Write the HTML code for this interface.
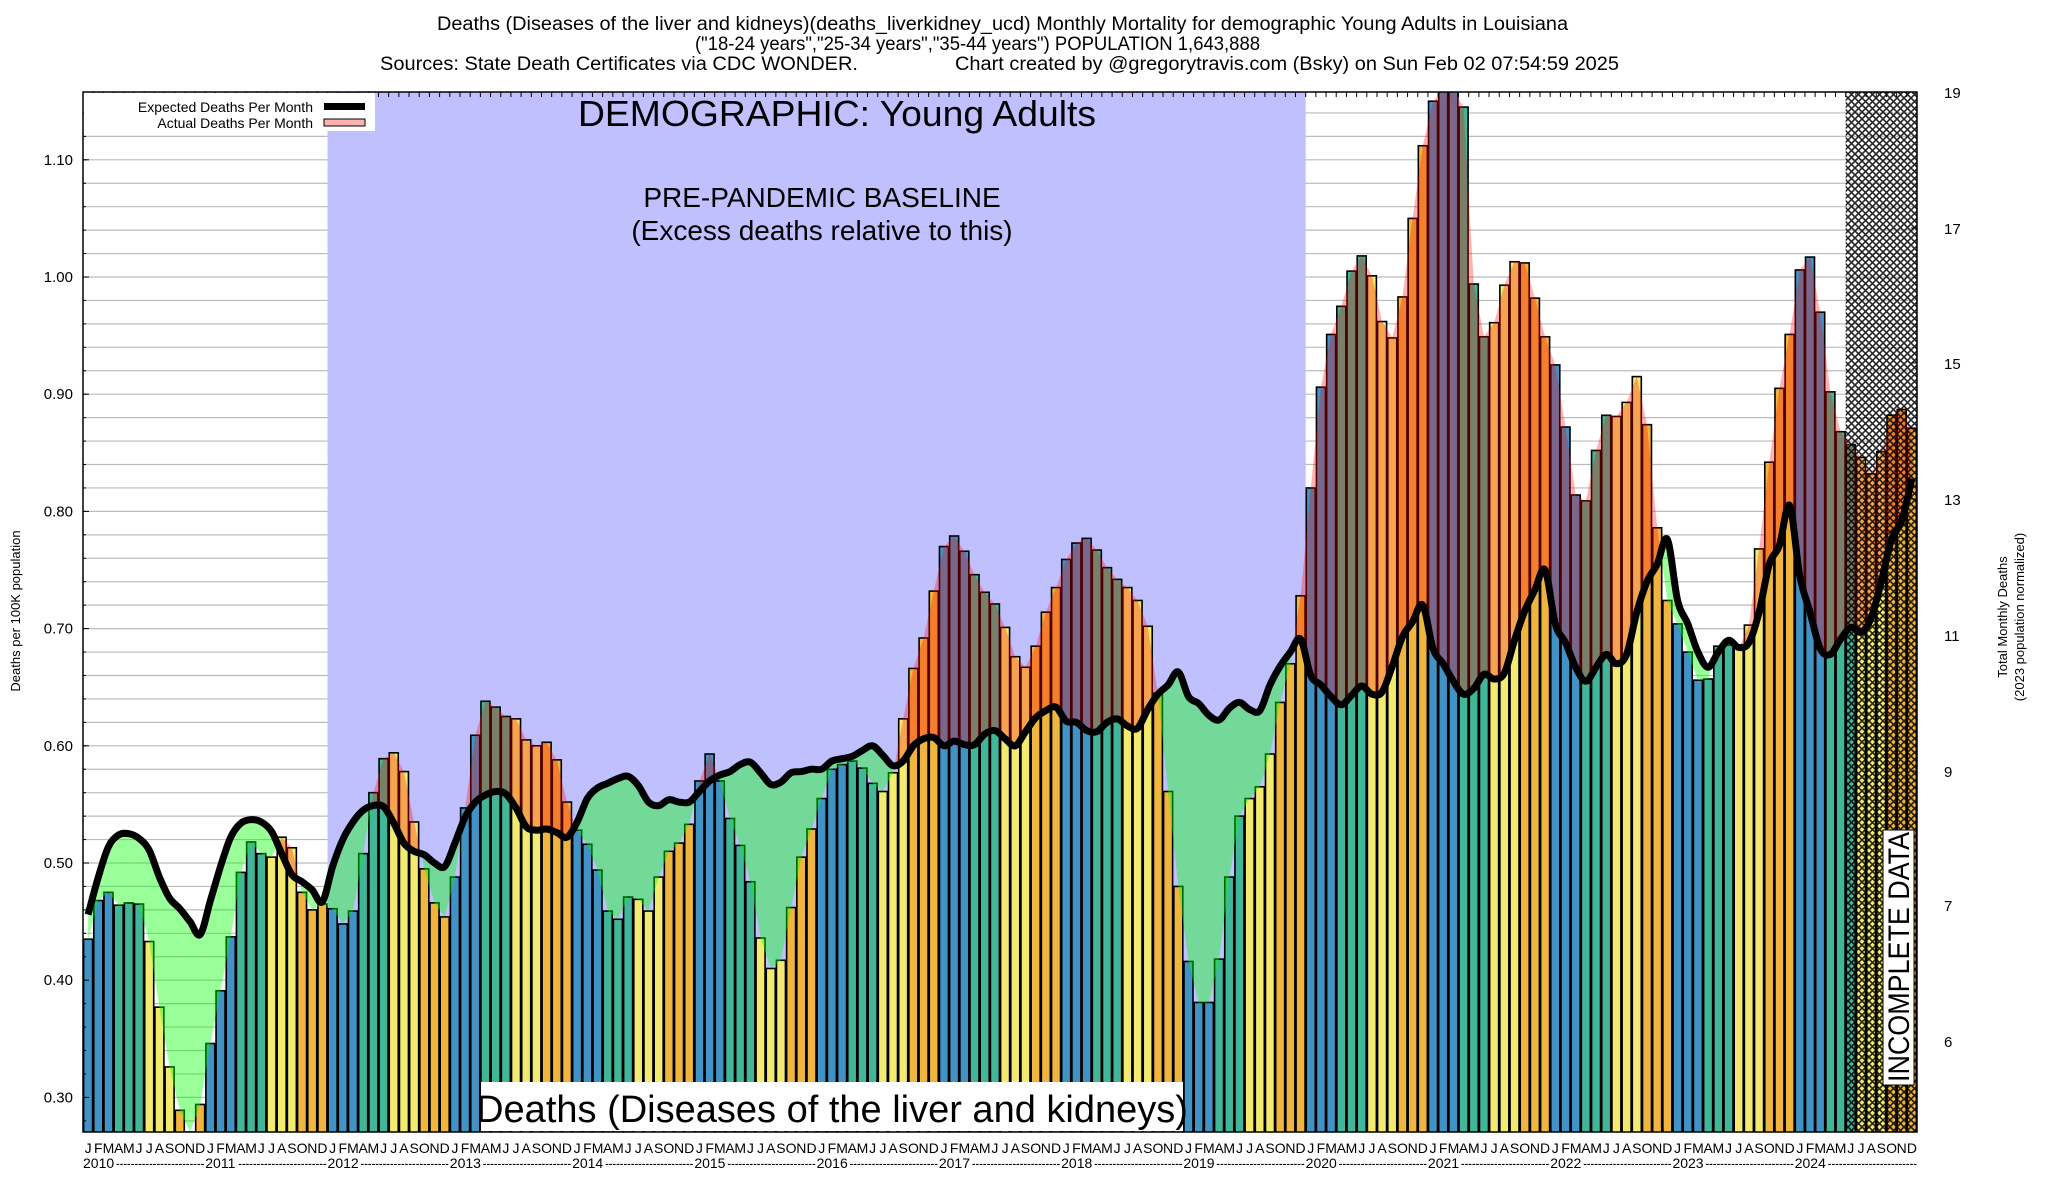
<!DOCTYPE html>
<html><head><meta charset="utf-8">
<style>
html,body{margin:0;padding:0;background:#fff;}
svg{display:block;font-family:"Liberation Sans",sans-serif;}
</style></head>
<body>
<svg id="chart" width="2048" height="1200" viewBox="0 0 2048 1200" xmlns="http://www.w3.org/2000/svg">
<defs>
<pattern id="hatch" width="7" height="7" patternUnits="userSpaceOnUse">
<path d="M0,0 L7,7 M7,0 L0,7" stroke="#000" stroke-width="1.6" fill="none"/>
</pattern>
<clipPath id="plotclip"><rect x="83" y="92" width="1834" height="1040"/></clipPath>
</defs>
<g font-size="19" fill="#000">
<text x="437" y="30" textLength="1131" lengthAdjust="spacingAndGlyphs">Deaths (Diseases of the liver and kidneys)(deaths_liverkidney_ucd) Monthly Mortality for demographic Young Adults in Louisiana</text>
<text x="695" y="50" textLength="565" lengthAdjust="spacingAndGlyphs">("18-24 years","25-34 years","35-44 years") POPULATION 1,643,888</text>
<text x="380" y="70" textLength="478" lengthAdjust="spacingAndGlyphs">Sources: State Death Certificates via CDC WONDER.</text>
<text x="955" y="70" textLength="664" lengthAdjust="spacingAndGlyphs">Chart created by @gregorytravis.com (Bsky) on Sun Feb 02 07:54:59 2025</text>
</g>
<rect x="83" y="92" width="1834" height="1040" fill="#fff"/>
<g id="grid"></g>
<rect id="baseline-bg" fill="#c0c0ff"/>
<g id="bars" clip-path="url(#plotclip)"></g>
<g id="fills" clip-path="url(#plotclip)"></g>
<path id="expline" fill="none" stroke="#000" stroke-width="7" stroke-linejoin="round" clip-path="url(#plotclip)"/>
<rect id="hatchrect" fill="url(#hatch)" opacity="0.85"/>
<g id="axes"></g>
<g>
<rect x="84" y="93" width="291" height="38" fill="#fff"/>
<text x="313" y="112" font-size="14" text-anchor="end">Expected Deaths Per Month</text>
<rect x="324" y="103" width="41" height="7" fill="#000"/>
<text x="313" y="128" font-size="14" text-anchor="end">Actual Deaths Per Month</text>
<rect x="324" y="119" width="41" height="7" fill="#ffb0b0" stroke="#000" stroke-width="1"/>
</g>
<text x="837" y="126" font-size="36" text-anchor="middle" textLength="518" lengthAdjust="spacingAndGlyphs">DEMOGRAPHIC: Young Adults</text>
<text x="822" y="207" font-size="28" text-anchor="middle">PRE-PANDEMIC BASELINE</text>
<text x="822" y="240" font-size="28" text-anchor="middle">(Excess deaths relative to this)</text>
<rect x="481" y="1082" width="702" height="49" fill="#fff"/>
<text x="832" y="1122" font-size="38" text-anchor="middle">Deaths (Diseases of the liver and kidneys)</text>
<rect x="1883" y="830" width="31" height="255" fill="#fff" stroke="#000" stroke-width="1"/>
<text transform="translate(1909,1082) rotate(-90)" font-size="30" textLength="250" lengthAdjust="spacingAndGlyphs">INCOMPLETE DATA</text>
<text transform="translate(20,611) rotate(-90)" font-size="13" text-anchor="middle">Deaths per 100K population</text>
<text transform="translate(2007,617) rotate(-90)" font-size="13" text-anchor="middle">Total Monthly Deaths</text>
<text transform="translate(2024,617) rotate(-90)" font-size="13" text-anchor="middle">(2023 population normalized)</text>
<g id="xlabels" font-size="14"></g>
</svg>
<script>
const years = [2010,2011,2012,2013,2014,2015,2016,2017,2018,2019,2020,2021,2022,2023,2024];
const monthLetters = ["J","F","M","A","M","J","J","A","S","O","N","D"];
const actual = [
.435,.468,.475,.464,.466,.465,.433,.377,.326,.289,.27,.294,
.346,.391,.437,.492,.518,.508,.505,.522,.513,.475,.46,.465,
.461,.448,.459,.508,.56,.589,.594,.578,.535,.495,.466,.454,
.488,.547,.609,.638,.633,.625,.623,.605,.6,.603,.588,.552,
.528,.516,.494,.459,.452,.471,.469,.459,.488,.51,.517,.533,
.57,.593,.57,.538,.515,.484,.436,.41,.417,.462,.505,.529,
.555,.58,.584,.587,.581,.568,.561,.577,.623,.666,.692,.732,
.77,.779,.766,.746,.731,.721,.701,.676,.667,.685,.714,.735,
.759,.773,.777,.767,.752,.742,.735,.724,.702,.645,.561,.48,
.416,.381,.381,.418,.488,.54,.555,.565,.593,.637,.67,.728,
.82,.906,.951,.975,1.005,1.018,1.001,.962,.948,.983,1.05,1.112,
1.15,1.16,1.16,1.145,.994,.949,.961,.993,1.013,1.012,.982,.949,
.925,.872,.814,.809,.852,.882,.881,.893,.915,.874,.786,.724,
.704,.68,.656,.657,.685,.686,.683,.703,.768,.842,.905,.951,
1.006,1.017,.97,.902,.868,.857,.846,.832,.851,.882,.887,.871];
const expected = [
.456,.488,.514,.524,.525,.521,.511,.488,.47,.461,.45,.439,
.468,.497,.522,.534,.537,.535,.527,.508,.49,.484,.477,.467,
.497,.52,.535,.545,.549,.548,.534,.517,.51,.507,.5,.497,
.517,.539,.552,.558,.561,.559,.547,.531,.528,.529,.526,.522,
.535,.555,.564,.568,.572,.574,.566,.552,.549,.554,.552,.552,
.561,.57,.575,.578,.584,.586,.577,.567,.569,.577,.578,.58,
.58,.587,.589,.591,.596,.6,.592,.583,.587,.6,.606,.607,
.6,.604,.601,.601,.61,.613,.606,.6,.612,.624,.63,.633,
.621,.62,.613,.612,.62,.623,.617,.615,.631,.644,.652,.663,
.642,.636,.626,.622,.632,.637,.631,.63,.652,.668,.68,.691,
.66,.652,.642,.635,.643,.651,.644,.646,.668,.693,.706,.72,
.683,.67,.655,.644,.649,.661,.657,.662,.69,.715,.733,.75,
.704,.688,.667,.655,.667,.678,.67,.678,.714,.74,.755,.776,
.724,.704,.68,.667,.68,.69,.684,.688,.714,.755,.771,.805,
.745,.714,.683,.678,.691,.701,.697,.709,.74,.776,.792,.828];
const yTicks = [0.30,0.40,0.50,0.60,0.70,0.80,0.90,1.00,1.10];
const y2Labels = ["19","17","15","13","11","9","7","6"];
const y2Pos = [92,228,363,499,635,771,905,1041];
const baselineStart = 24, baselineEnd = 120, incompleteStart = 173;

const NS="http://www.w3.org/2000/svg";
const L=83,R=1917,T=92,B=1132,N=actual.length;
const bw=(R-L)/N;
const xAt=i=>L+i*bw;
const xc=i=>L+(i+0.5)*bw;
const yAt=v=>277+(1-v)*1172;
const yMin=1-(B-277)/1172, yMax=1-(T-277)/1172;
const clampV=v=>Math.max(yMin,Math.min(yMax+0.01,v));
function mk(tag,attrs,parent){const e=document.createElementNS(NS,tag);for(const k in attrs)e.setAttribute(k,attrs[k]);parent.appendChild(e);return e;}
const seasonColors=["#4193c6","#41b699","#f3ea72","#efb53f"];

const grid=document.getElementById('grid');
for(let v=0.28;v<=1.16;v+=0.02){
  const y=yAt(v); if(y<T+2||y>B-1)continue;
  const ln=mk('line',{x1:L,x2:R,y1:y,y2:y,stroke:'#bbb','stroke-width':1.2},grid);
  
  
}
const bg=document.getElementById('baseline-bg');
bg.setAttribute('x',xAt(baselineStart));bg.setAttribute('y',T);
bg.setAttribute('width',xAt(baselineEnd)-xAt(baselineStart));bg.setAttribute('height',B-T);

const bars=document.getElementById('bars');
for(let i=0;i<N;i++){
  const v=clampV(actual[i]);const y=yAt(v);
  const r=mk('rect',{x:xAt(i)+0.6,y:y,width:bw-1.2,height:B-y+2,fill:seasonColors[Math.floor((i%12)/3)],stroke:'#000','stroke-width':1.6},bars);
  
  
}
const fills=document.getElementById('fills');
function poly(pts,col,i){
  const p=mk('polygon',{points:pts.map(q=>q[0].toFixed(1)+','+q[1].toFixed(1)).join(' '),fill:col},fills);
  
  
}
const UP='rgba(255,0,0,0.3)',DN='rgba(0,255,0,0.4)';
for(let i=0;i<N-1;i++){
  const a0=clampV(actual[i]),a1=clampV(actual[i+1]),e0=expected[i],e1=expected[i+1];
  const d0=a0-e0,d1=a1-e1,x0=xc(i),x1=xc(i+1);
  if(d0*d1>=0){
    poly([[x0,yAt(a0)],[x1,yAt(a1)],[x1,yAt(e1)],[x0,yAt(e0)]],(d0+d1)>=0?UP:DN,i);
  }else{
    const t=d0/(d0-d1);const xm=x0+t*(x1-x0);const vm=e0+t*(e1-e0);
    poly([[x0,yAt(a0)],[xm,yAt(vm)],[x0,yAt(e0)]],d0>0?UP:DN,i);
    poly([[xm,yAt(vm)],[x1,yAt(a1)],[x1,yAt(e1)]],d1>0?UP:DN,i);
  }
}
const pts=expected.map((v,i)=>[xc(i),yAt(v)]);
let d='M'+pts[0][0]+','+pts[0][1];
for(let i=0;i<pts.length-1;i++){
  const p0=pts[Math.max(0,i-1)],p1=pts[i],p2=pts[i+1],p3=pts[Math.min(pts.length-1,i+2)];
  const c1=[p1[0]+(p2[0]-p0[0])/6,p1[1]+(p2[1]-p0[1])/6];
  const c2=[p2[0]-(p3[0]-p1[0])/6,p2[1]-(p3[1]-p1[1])/6];
  d+=' C'+c1[0].toFixed(1)+','+c1[1].toFixed(1)+' '+c2[0].toFixed(1)+','+c2[1].toFixed(1)+' '+p2[0].toFixed(1)+','+p2[1].toFixed(1);
}
document.getElementById('expline').setAttribute('d',d);
const hr=document.getElementById('hatchrect');
hr.setAttribute('x',xAt(incompleteStart));hr.setAttribute('y',T);
hr.setAttribute('width',R-xAt(incompleteStart));hr.setAttribute('height',B-T);

const ax=document.getElementById('axes');
mk('rect',{x:L,y:T,width:R-L,height:B-T,fill:'none',stroke:'#000','stroke-width':1.5},ax);
for(const v of yTicks){
  const y=yAt(v);
  mk('line',{x1:L,x2:L+6,y1:y,y2:y,stroke:'#000','stroke-width':1},ax);
  const t=mk('text',{x:73,y:y+5,'font-size':15,'text-anchor':'end'},ax);
  t.textContent=v.toFixed(2);
  
  
}
for(let v=0.28;v<=1.16;v+=0.02){const y=yAt(v);if(y<T+2||y>B-1)continue;mk('line',{x1:L,x2:L+3,y1:y,y2:y,stroke:'#000','stroke-width':1},ax);}
for(let k=0;k<y2Labels.length;k++){
  mk('line',{x1:R-6,x2:R,y1:y2Pos[k],y2:y2Pos[k],stroke:'#000','stroke-width':1},ax);
  const t=mk('text',{x:1944,y:y2Pos[k]+6,'font-size':15},ax);
  t.textContent=y2Labels[k];
  
  
}
for(let i=0;i<=N;i++){mk('line',{x1:xAt(i),x2:xAt(i),y1:T,y2:T+5,stroke:'#000','stroke-width':1},ax);}
const xl=document.getElementById('xlabels');
for(let i=0;i<N;i++){
  const t=mk('text',{x:xc(i),y:1153,'text-anchor':'middle'},xl);
  t.textContent=monthLetters[i%12];
  
  
}
for(let k=0;k<years.length;k++){
  const x=xAt(k*12);
  const t=mk('text',{x:x,y:1168},xl);
  t.textContent=years[k];
  
  
  const dx=x+33, dEnd=(k<years.length-1)?xAt((k+1)*12)-1:R;
  const dsh=mk('text',{x:dx,y:1168,textLength:(dEnd-dx).toFixed(1),lengthAdjust:'spacingAndGlyphs'},xl);
  dsh.textContent='------------------------';
  
  
}
</script>
</body></html>
